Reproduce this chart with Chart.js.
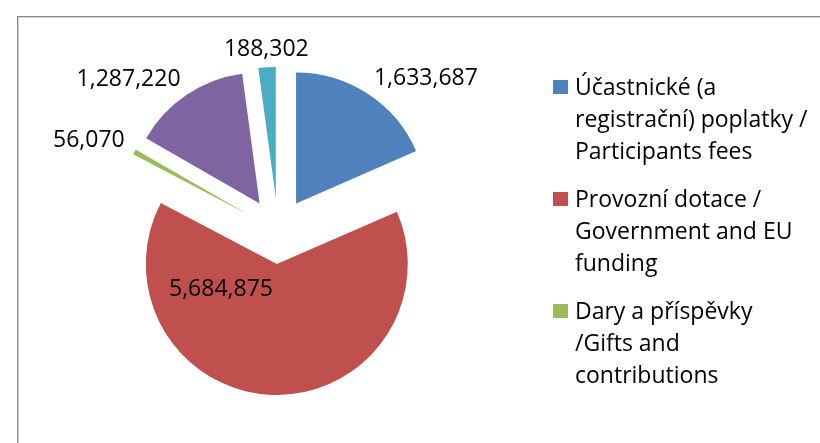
<!DOCTYPE html>
<html><head><meta charset="utf-8">
<script src="https://cdn.jsdelivr.net/npm/chart.js@4.4.1/dist/chart.umd.min.js"></script>
<style>
html,body{margin:0;padding:0;background:#fff;overflow:hidden;width:820px;height:443px}
#frame{position:absolute;left:17px;top:16px;width:900px;height:500px;border:1px solid #8a8a8a;box-shadow:inset 1px 1px 0 #d0d0d0;box-sizing:border-box}
#c{position:absolute;left:0;top:0}
#legend{position:absolute;left:553px;top:70px;font-family:"Open Sans";font-size:23px;line-height:32px;color:#000}
.item{display:flex;align-items:flex-start;margin-bottom:16px}
.sw{width:15px;height:14px;margin-top:10px;margin-right:7px;flex:none}
.tx{white-space:pre-line}
</style></head><body>
<div id="frame"></div>
<canvas id="c" width="820" height="443"></canvas>
<div id="legend"></div>
<script>
const categories = [
  "Účastnické (a\nregistrační) poplatky /\nParticipants fees",
  "Provozní dotace /\nGovernment and EU\nfunding",
  "Dary a příspěvky\n/Gifts and\ncontributions",
  "Položka 4",
  "Položka 5"
];
const values = [1633687, 5684875, 56070, 1287220, 188302];
const colors = ["#4F81BD", "#C0504D", "#9BBB59", "#8064A2", "#4BACC6"];
const legendShown = 3;

const explodePlugin = {
  id: 'explode',
  afterDatasetUpdate(chart, args, opts) {
    args.meta.data.forEach(el => {
      const mid = (el.startAngle + el.endAngle) / 2;
      el.x += Math.cos(mid) * opts.distance;
      el.y += Math.sin(mid) * opts.distance;
    });
  }
};

const labelPlugin = {
  id: 'sliceLabels',
  afterDatasetsDraw(chart, args, opts) {
    const ctx = chart.ctx;
    const meta = chart.getDatasetMeta(0);
    const total = values.reduce((a, b) => a + b, 0);
    ctx.save();
    ctx.font = opts.font;
    ctx.fillStyle = opts.color;
    meta.data.forEach((el, i) => {
      const text = values[i].toLocaleString('en-US');
      const mid = (el.startAngle + el.endAngle) / 2;
      const R = el.outerRadius;
      const cx = Math.cos(mid), sy = Math.sin(mid);
      if (values[i] / total > 0.5) {
        const a = mid + opts.insideAngleShift * Math.PI / 180;
        const r = R * opts.insideRadius;
        ctx.textAlign = 'center';
        ctx.textBaseline = 'middle';
        ctx.fillText(text, el.x + Math.cos(a) * r, el.y + Math.sin(a) * r);
      } else {
        const px = el.x + cx * (R + opts.pad), py = el.y + sy * (R + opts.pad);
        ctx.textAlign = Math.abs(cx) < 0.3 ? 'center' : (cx > 0 ? 'left' : 'right');
        ctx.textBaseline = sy < -0.3 ? 'alphabetic' : (sy > 0.3 ? 'top' : 'middle');
        ctx.fillText(text, px, py);
      }
    });
    ctx.restore();
  }
};

new Chart(document.getElementById('c'), {
  type: 'pie',
  data: {
    labels: categories,
    datasets: [{
      data: values,
      backgroundColor: colors,
      borderWidth: 0
    }]
  },
  options: {
    responsive: false,
    animation: false,
    radius: 131,
    layout: { padding: { left: 0, right: 264, top: 19, bottom: 0 } },
    plugins: {
      legend: { display: false },
      tooltip: { enabled: false },
      explode: { distance: 33 },
      sliceLabels: { font: '23px "Open Sans"', color: '#000', pad: 11, insideRadius: 0.47, insideAngleShift: 63 }
    }
  },
  plugins: [explodePlugin, labelPlugin]
});

const lg = document.getElementById('legend');
categories.slice(0, legendShown).forEach((c, i) => {
  const item = document.createElement('div');
  item.className = 'item';
  const sw = document.createElement('div');
  sw.className = 'sw';
  sw.style.background = colors[i];
  const tx = document.createElement('div');
  tx.className = 'tx';
  tx.textContent = c;
  item.appendChild(sw);
  item.appendChild(tx);
  lg.appendChild(item);
});
</script>
</body></html>
